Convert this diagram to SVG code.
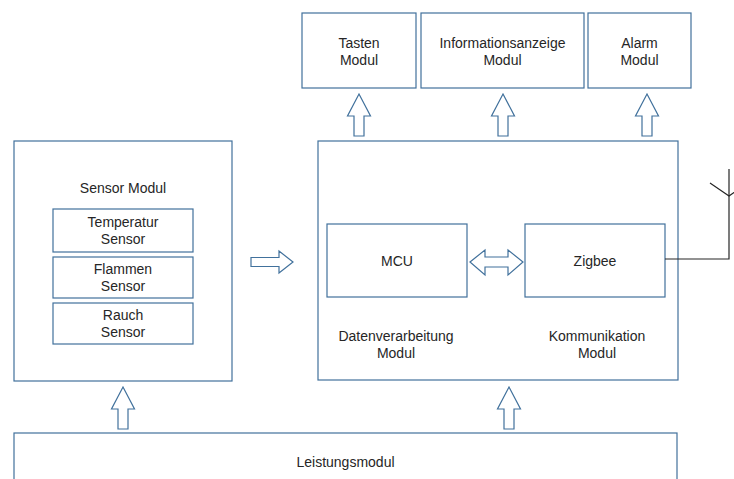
<svg xmlns="http://www.w3.org/2000/svg" width="734" height="479" viewBox="0 0 734 479">
  <style>
    .box { fill: #ffffff; stroke: #41719c; stroke-width: 1.2; }
    .arrow { fill: #ffffff; stroke: #41719c; stroke-width: 1.2; stroke-linejoin: miter; }
    .wire { fill: none; stroke: #262626; stroke-width: 1.2; }
    text { font-family: "Liberation Sans", Arial, sans-serif; font-size: 14px; fill: #262626; text-anchor: middle; }
  </style>
  <defs>
    <!-- hollow block arrow pointing up, tip at origin -->
    <path id="upArrow" d="M0,0 L11.5,22 L5,22 L5,42 L-5,42 L-5,22 L-11.5,22 Z"/>
  </defs>
  <rect width="734" height="479" fill="#ffffff"/>

  <g id="tasten">
    <rect class="box" x="302" y="13" width="114" height="75"/>
    <text x="359" y="48">Tasten</text>
    <text x="359" y="65">Modul</text>
  </g>
  <g id="anzeige">
    <rect class="box" x="421" y="13" width="163" height="75"/>
    <text x="502.5" y="48">Informationsanzeige</text>
    <text x="502.5" y="65">Modul</text>
  </g>
  <g id="alarm">
    <rect class="box" x="588" y="13" width="103" height="75"/>
    <text x="639.5" y="48">Alarm</text>
    <text x="639.5" y="65">Modul</text>
  </g>

  <g id="sensor">
    <rect class="box" x="14" y="141" width="218" height="240"/>
    <text x="123" y="193">Sensor Modul</text>
    <g id="temp">
      <rect class="box" x="53" y="209" width="140" height="43"/>
      <text x="123" y="227">Temperatur</text>
      <text x="123" y="244">Sensor</text>
    </g>
    <g id="flamme">
      <rect class="box" x="53" y="257" width="140" height="41"/>
      <text x="123" y="274">Flammen</text>
      <text x="123" y="291">Sensor</text>
    </g>
    <g id="rauch">
      <rect class="box" x="53" y="303" width="140" height="41"/>
      <text x="123" y="320">Rauch</text>
      <text x="123" y="337">Sensor</text>
    </g>
  </g>

  <g id="hauptmodul">
    <rect class="box" x="318" y="141" width="360" height="239"/>
    <g id="mcu">
      <rect class="box" x="327" y="224" width="140" height="73"/>
      <text x="397" y="266">MCU</text>
    </g>
    <g id="zigbee">
      <rect class="box" x="525" y="224" width="140" height="73"/>
      <text x="595" y="266">Zigbee</text>
    </g>
    <text x="396" y="341">Datenverarbeitung</text>
    <text x="396" y="358">Modul</text>
    <text x="597" y="341">Kommunikation</text>
    <text x="597" y="358">Modul</text>
  </g>

  <g id="leistung">
    <rect class="box" x="14" y="433" width="663" height="60"/>
    <text x="345.5" y="467">Leistungsmodul</text>
  </g>

  <g id="connectors">
    <!-- upward block arrows -->
    <use href="#upArrow" class="arrow" transform="translate(359,94)"/>
    <use href="#upArrow" class="arrow" transform="translate(503,94)"/>
    <use href="#upArrow" class="arrow" transform="translate(647,94)"/>
    <use href="#upArrow" class="arrow" transform="translate(123,387)"/>
    <use href="#upArrow" class="arrow" transform="translate(509,387)"/>
    <!-- sensor to main box -->
    <path class="arrow" d="M251,257.5 L279,257.5 L279,251 L293,262 L279,273 L279,266.5 L251,266.5 Z"/>
    <!-- MCU <-> Zigbee -->
    <path class="arrow" d="M470,262 L485,250 L485,257 L508,257 L508,250 L523,262 L508,275 L508,267 L485,267 L485,275 Z"/>
    <!-- antenna line -->
    <path class="wire" d="M665,259 L729,259 L729,169"/>
    <path class="wire" d="M710,183 L729,196 L748,183"/>
  </g>
</svg>
